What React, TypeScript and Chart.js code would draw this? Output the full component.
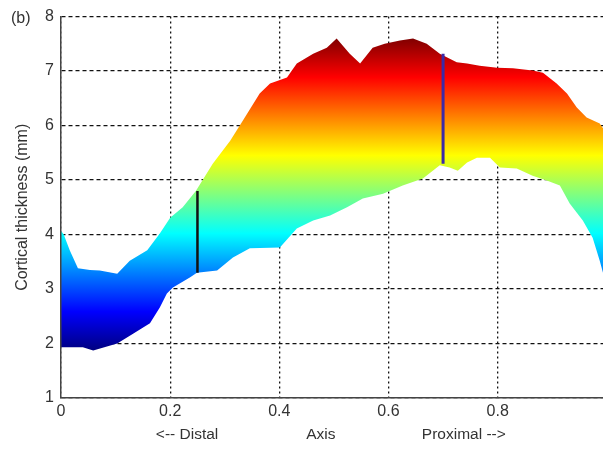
import React, { useEffect, useRef } from "react";
import { Chart, registerables } from "chart.js";

Chart.register(...registerables);

// Upper boundary of the thickness band
const upperX = [0, 0.005, 0.016, 0.031, 0.053, 0.071, 0.103, 0.126, 0.158, 0.181, 0.2, 0.223, 0.247, 0.278, 0.31, 0.333, 0.364, 0.383, 0.414, 0.432, 0.462, 0.487, 0.505, 0.529, 0.548, 0.571, 0.593, 0.621, 0.645, 0.67, 0.694, 0.725, 0.744, 0.767, 0.799, 0.828, 0.864, 0.883, 0.908, 0.927, 0.945, 0.963, 0.987, 0.993];
const upperY = [4.07, 4.0, 3.71, 3.38, 3.35, 3.34, 3.28, 3.52, 3.71, 4.02, 4.31, 4.5, 4.8, 5.3, 5.72, 6.09, 6.59, 6.77, 6.88, 7.14, 7.32, 7.43, 7.6, 7.32, 7.14, 7.43, 7.5, 7.56, 7.6, 7.5, 7.32, 7.16, 7.14, 7.1, 7.06, 7.05, 7.01, 6.97, 6.77, 6.59, 6.33, 6.15, 6.04, 5.95];

// Lower boundary of the thickness band
const lowerX = [0, 0.04, 0.059, 0.103, 0.132, 0.163, 0.181, 0.194, 0.205, 0.236, 0.249, 0.286, 0.315, 0.346, 0.401, 0.432, 0.462, 0.493, 0.524, 0.553, 0.59, 0.626, 0.663, 0.694, 0.712, 0.727, 0.744, 0.762, 0.786, 0.804, 0.835, 0.864, 0.89, 0.914, 0.932, 0.956, 0.974, 0.987, 0.993];
const lowerY = [1.93, 1.93, 1.87, 2.0, 2.18, 2.37, 2.66, 2.92, 3.03, 3.21, 3.3, 3.34, 3.58, 3.75, 3.76, 4.11, 4.26, 4.35, 4.5, 4.66, 4.75, 4.9, 5.03, 5.27, 5.23, 5.17, 5.32, 5.41, 5.41, 5.23, 5.21, 5.08, 4.99, 4.9, 4.57, 4.26, 3.94, 3.52, 3.3];

// Marker lines
const distalMarkX = 0.25;
const distalMarkY = [3.3, 4.8];
const proximalMarkX = 0.7;
const proximalMarkY = [5.3, 7.32];

// Axes
const xTicks = [0, 0.2, 0.4, 0.6, 0.8];
const yTicks = [1, 2, 3, 4, 5, 6, 7, 8];
const xMin = 0;
const xMax = 0.993;
const yMin = 1;
const yMax = 8;
const colorMin = 1.87;
const colorMax = 7.6;

const axisLabels = [
  { text: "<-- Distal", at: 0.231 },
  { text: "Axis", at: 0.476 },
  { text: "Proximal -->", at: 0.738 },
];
const panelLabel = "(b)";
const yTitle = "Cortical thickness (mm)";

const FONT = '"Liberation Sans", Arial, Helvetica, sans-serif';

const jetStops: [number, string][] = [
  [0, "#000080"],
  [0.125, "#0000ff"],
  [0.375, "#00ffff"],
  [0.625, "#ffff00"],
  [0.875, "#ff0000"],
  [1, "#800000"],
];

const textPlugin = {
  id: "extraText",
  afterDraw(chart: any) {
    const { ctx, chartArea, scales } = chart;
    ctx.save();
    ctx.fillStyle = "#333";
    ctx.font = `15.5px ${FONT}`;
    ctx.textAlign = "center";
    ctx.textBaseline = "middle";
    for (const l of axisLabels) {
      ctx.fillText(l.text, scales.x.getPixelForValue(l.at), chartArea.bottom + 37);
    }
    ctx.font = `16px ${FONT}`;
    ctx.textAlign = "left";
    ctx.fillText(panelLabel, 11, 19);
    ctx.restore();
  },
};

export default function App() {
  const ref = useRef<HTMLCanvasElement>(null);

  useEffect(() => {
    if (!ref.current) return;
    const gradient = (c: any) => {
      const chart = c.chart;
      const { chartArea, scales } = chart;
      if (!chartArea || !scales.y) return "rgba(0,0,0,0)";
      const g = chart.ctx.createLinearGradient(
        0,
        scales.y.getPixelForValue(colorMin),
        0,
        scales.y.getPixelForValue(colorMax)
      );
      jetStops.forEach(([t, col]) => g.addColorStop(t, col));
      return g;
    };

    const chart = new Chart(ref.current, {
      type: "line",
      data: {
        datasets: [
          {
            data: distalMarkY.map((y) => ({ x: distalMarkX, y })),
            borderColor: "#111",
            borderWidth: 2.5,
            pointRadius: 0,
            fill: false,
          },
          {
            data: proximalMarkY.map((y) => ({ x: proximalMarkX, y })),
            borderColor: "#3a2aa8",
            borderWidth: 3,
            pointRadius: 0,
            fill: false,
          },
          {
            data: upperX.map((x, i) => ({ x, y: upperY[i] })),
            borderColor: "rgba(0,0,0,0)",
            borderWidth: 0,
            pointRadius: 0,
            backgroundColor: gradient,
            fill: "+1",
          },
          {
            data: lowerX.map((x, i) => ({ x, y: lowerY[i] })),
            borderColor: "rgba(0,0,0,0)",
            borderWidth: 0,
            pointRadius: 0,
            fill: false,
          },
        ],
      },
      options: {
        animation: false,
        responsive: false,
        layout: { padding: { left: 0, right: 0, top: 16, bottom: 0 } },
        plugins: {
          legend: { display: false },
          tooltip: { enabled: false },
        },
        scales: {
          x: {
            type: "linear",
            min: xMin,
            max: xMax,
            afterBuildTicks: (s: any) => {
              s.ticks = xTicks.map((v) => ({ value: v }));
            },
            afterFit: (s: any) => {
              s.height = 52;
            },
            ticks: {
              color: "#333",
              font: { family: FONT, size: 16 },
              padding: 4,
              maxRotation: 0,
              autoSkip: false,
            },
            grid: {
              color: "#111",
              lineWidth: 1.3,
              drawTicks: false,
            },
            border: { display: true, color: "#444", width: 1.5, dash: [2, 3], z: 1 },
          },
          y: {
            type: "linear",
            min: yMin,
            max: yMax,
            afterBuildTicks: (s: any) => {
              s.ticks = yTicks.map((v) => ({ value: v }));
            },
            afterFit: (s: any) => {
              s.width = 61;
            },
            ticks: {
              color: "#333",
              font: { family: FONT, size: 16 },
              padding: 7,
              autoSkip: false,
            },
            grid: {
              color: "#111",
              lineWidth: 1.3,
              drawTicks: false,
            },
            border: { display: true, color: "#444", width: 1.5, dash: [4, 3], z: 1 },
            title: {
              display: true,
              text: yTitle,
              color: "#333",
              font: { family: FONT, size: 16 },
              padding: { top: 13, bottom: 0 },
            },
          },
        },
      },
      plugins: [textPlugin],
    });
    return () => chart.destroy();
  }, []);

  return (
    <div style={{ position: "fixed", left: 0, top: 0, width: 603, height: 450, background: "#fff" }}>
      <canvas ref={ref} width={603} height={450} style={{ display: "block" }} />
    </div>
  );
}
